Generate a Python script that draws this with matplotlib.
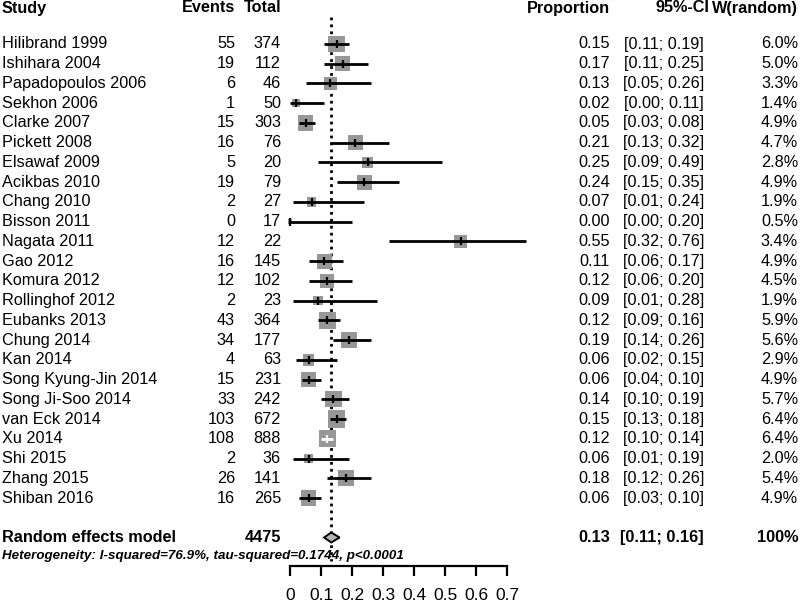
import matplotlib
matplotlib.use('Agg')
import matplotlib.pyplot as plt
import matplotlib.transforms as mtransforms
from matplotlib.patches import Rectangle, Polygon

studies = ["Hilibrand 1999", "Ishihara 2004", "Papadopoulos 2006", "Sekhon 2006",
           "Clarke 2007", "Pickett 2008", "Elsawaf 2009", "Acikbas 2010",
           "Chang 2010", "Bisson 2011", "Nagata 2011", "Gao 2012",
           "Komura 2012", "Rollinghof 2012", "Eubanks 2013", "Chung 2014",
           "Kan 2014", "Song Kyung-Jin 2014", "Song Ji-Soo 2014", "van Eck 2014",
           "Xu 2014", "Shi 2015", "Zhang 2015", "Shiban 2016"]
events = [55, 19, 6, 1, 15, 16, 5, 19, 2, 0, 12, 16, 12, 2, 43, 34, 4, 15, 33, 103, 108, 2, 26, 16]
totals = [374, 112, 46, 50, 303, 76, 20, 79, 27, 17, 22, 145, 102, 23, 364, 177, 63, 231, 242, 672, 888, 36, 141, 265]
prop = [0.15, 0.17, 0.13, 0.02, 0.05, 0.21, 0.25, 0.24, 0.07, 0.00, 0.55, 0.11,
        0.12, 0.09, 0.12, 0.19, 0.06, 0.06, 0.14, 0.15, 0.12, 0.06, 0.18, 0.06]
lower = [0.11, 0.11, 0.05, 0.00, 0.03, 0.13, 0.09, 0.15, 0.01, 0.00, 0.32, 0.06,
         0.06, 0.01, 0.09, 0.14, 0.02, 0.04, 0.10, 0.13, 0.10, 0.01, 0.12, 0.03]
upper = [0.19, 0.25, 0.26, 0.11, 0.08, 0.32, 0.49, 0.35, 0.24, 0.20, 0.76, 0.17,
         0.20, 0.28, 0.16, 0.26, 0.15, 0.10, 0.19, 0.18, 0.14, 0.19, 0.26, 0.10]
weights = [6.0, 5.0, 3.3, 1.4, 4.9, 4.7, 2.8, 4.9, 1.9, 0.5, 3.4, 4.9,
           4.5, 1.9, 5.9, 5.6, 2.9, 4.9, 5.7, 6.4, 6.4, 2.0, 5.4, 4.9]

pooled_label = "Random effects model"
pooled_total = 4475
pooled_est = 0.133
pooled_lo = 0.11
pooled_hi = 0.16
het_text = "Heterogeneity: I-squared=76.9%, tau-squared=0.1744, p<0.0001"
xticks = [0, 0.1, 0.2, 0.3, 0.4, 0.5, 0.6, 0.7]
xticklabels = ["0", "0.1", "0.2", "0.3", "0.4", "0.5", "0.6", "0.7"]

plt.rcParams['font.family'] = ['Liberation Sans', 'DejaVu Sans']
FS = 11.7

W, H = 800, 603
fig = plt.figure(figsize=(8, 6.03), dpi=100)
ax_left, ax_right = 290, 507
ax_bottom = 566
row0, drow = 44, 19.74
ax = fig.add_axes([ax_left / W, 1 - ax_bottom / H, (ax_right - ax_left) / W, ax_bottom / H])
ax.set_xlim(0, 0.7)
ymax = (ax_bottom - row0) / drow
ymin = (0 - row0) / drow
ax.set_ylim(ymax, ymin)

for s in ['left', 'top', 'right']:
    ax.spines[s].set_visible(False)
ax.spines['bottom'].set_linewidth(1.6)
ax.yaxis.set_visible(False)
ax.set_xticks(xticks)
ax.set_xticklabels(xticklabels)
ax.tick_params(axis='x', direction='out', length=7.5, width=1.6, labelsize=12.5, pad=8)

px_per_x = (ax_right - ax_left) / 0.7

# reference dotted line
ax.plot([pooled_est, pooled_est], [(17 - row0) / drow, (561 - row0) / drow],
        color='black', lw=2, ls=(0, (1, 1.5)), clip_on=False, zorder=1)

for i in range(len(studies)):
    y = i
    side = 17.3 * (weights[i] / 6.4) ** 0.5
    wx = side / px_per_x
    hy = side / drow
    ax.add_patch(Rectangle((prop[i] - wx / 2, y - hy / 2), wx, hy,
                           facecolor='#979797', edgecolor='none', zorder=2, clip_on=False))
    inside = (prop[i] - wx / 2 <= lower[i]) and (prop[i] + wx / 2 >= upper[i])
    lc = 'white' if inside else 'black'
    ax.plot([lower[i], upper[i]], [y, y], color=lc, lw=2, zorder=3, clip_on=False,
            solid_capstyle='butt')
    ax.plot([prop[i]], [y], marker='|', ms=6, mew=1.6, color=lc, zorder=4, clip_on=False)

# diamond
yd = 25.0
dh = 5.0 / drow
ax.add_patch(Polygon([[pooled_lo, yd], [pooled_est, yd - dh], [pooled_hi, yd], [pooled_est, yd + dh]],
                     closed=True, facecolor='#b4b4b4', edgecolor='black', lw=1.4, zorder=5, clip_on=False))

trans = mtransforms.blended_transform_factory(fig.transFigure, ax.transData)

def T(px, y, s, ha='left', **kw):
    fig.text(px / W, y, s, ha=ha, va='center', transform=trans, fontsize=kw.pop('fontsize', FS), **kw)

yh = (8 - row0) / drow
T(2, yh, "Study", weight='bold')
T(235, yh, "Events", ha='right', weight='bold')
T(282, yh, "Total", ha='right', weight='bold')
T(610, yh, "Proportion", ha='right', weight='bold')
T(709, yh, "95%-CI", ha='right', weight='bold')
T(798, yh, "W(random)", ha='right', weight='bold')

for i in range(len(studies)):
    T(2, i, studies[i])
    T(235, i, str(events[i]), ha='right')
    T(281, i, str(totals[i]), ha='right')
    T(610, i, f"{prop[i]:.2f}", ha='right')
    T(704, i, f"[{lower[i]:.2f}; {upper[i]:.2f}]", ha='right')
    T(798, i, f"{weights[i]:.1f}%", ha='right')

T(2, yd, pooled_label, weight='bold')
T(281, yd, str(pooled_total), ha='right', weight='bold')
T(610, yd, f"{pooled_est:.2f}", ha='right', weight='bold')
T(704, yd, f"[{pooled_lo:.2f}; {pooled_hi:.2f}]", ha='right', weight='bold')
T(798, yd, "100%", ha='right', weight='bold')
T(2, (556 - row0) / drow, het_text, weight='bold', style='italic', fontsize=9.6)

fig.savefig('out.png', dpi=100)
